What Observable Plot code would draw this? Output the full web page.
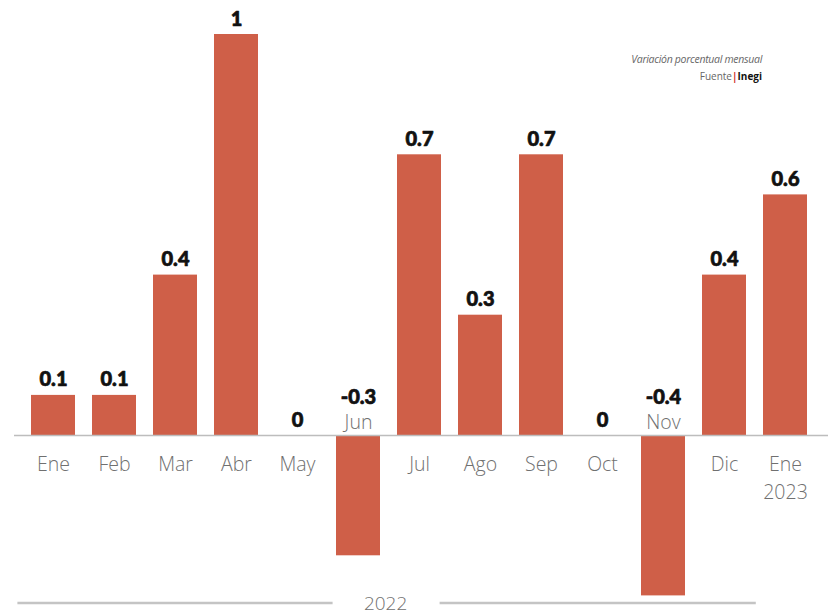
<!DOCTYPE html>
<html>
<head>
<meta charset="utf-8">
<script src="https://cdn.jsdelivr.net/npm/d3@7"></script>
<script src="https://cdn.jsdelivr.net/npm/@observablehq/plot@0.6"></script>
<style>
  html, body { margin: 0; padding: 0; background: #fff; }
  #wrap { position: relative; width: 828px; height: 615px; overflow: hidden; }
  .note { position: absolute; right: 66px; text-align: right; font-family: "Open Sans", sans-serif; color: #666; }
</style>
</head>
<body>
<div id="wrap"></div>
<script>
const months = ["Ene","Feb","Mar","Abr","May","Jun","Jul","Ago","Sep","Oct","Nov","Dic","Ene\n2023"];
const values = [0.1, 0.1, 0.4, 1, 0, -0.3, 0.7, 0.3, 0.7, 0, -0.4, 0.4, 0.6];
const yearLabel = "2022";
const noteLine1 = "Variación porcentual mensual";
const noteSource = "Fuente";
const noteSourceName = "Inegi";

const data = months.map((m, i) => ({month: m, value: values[i]}));
const pos = data.filter(d => d.value >= 0);
const neg = data.filter(d => d.value < 0);
const barColor = "#cf5f48";

const chart = Plot.plot({
  width: 828,
  height: 615,
  marginTop: 0,
  marginBottom: 0,
  marginLeft: 14,
  marginRight: 0,
  style: {background: "#fff", overflow: "visible"},
  x: {domain: months, range: [21.4, 817], paddingInner: 0.28, paddingOuter: 0.14, axis: null},
  y: {domain: [-0.4, 1], range: [595.4, 34], axis: null},
  marks: [
    Plot.barY(data, {x: "month", y: "value", fill: barColor}),
    Plot.ruleY([0], {stroke: "#bdbdbd", strokeWidth: 1.5}),
    // value labels
    Plot.text(pos, {
      x: "month", y: "value", text: d => String(d.value),
      lineAnchor: "bottom", dy: -9,
      fontFamily: "Lato, 'DejaVu Sans', sans-serif", fontWeight: 900, fontSize: 20,
      fill: "#111", stroke: "#111", strokeWidth: 0.7
    }),
    Plot.text(neg, {
      x: "month", y: 0, text: d => String(d.value),
      lineAnchor: "bottom", dy: -32,
      fontFamily: "Lato, 'DejaVu Sans', sans-serif", fontWeight: 900, fontSize: 20,
      fill: "#111", stroke: "#111", strokeWidth: 0.7
    }),
    // month labels
    Plot.text(pos, {
      x: "month", y: 0, text: "month",
      lineAnchor: "top", dy: 16, lineHeight: 1.42,
      fontFamily: "'Open Sans', sans-serif", fontWeight: 300, fontSize: 19.5, fill: "#707070"
    }),
    Plot.text(neg, {
      x: "month", y: 0, text: "month",
      lineAnchor: "bottom", dy: -7,
      fontFamily: "'Open Sans', sans-serif", fontWeight: 300, fontSize: 19.5, fill: "#707070"
    })
  ]
});

document.getElementById("wrap").appendChild(chart);

// Year bracket at bottom, positioned from the plot's x scale
const xs = chart.scale("x");
const xScale = d3.scaleBand().domain(xs.domain).range(xs.range).paddingInner(0.28).paddingOuter(0.14);
const step = xScale.step();
const start = xScale("Ene") - xScale.paddingOuter() * step;
const end = xScale("Dic") + xScale.bandwidth() + (1 - xScale.bandwidth() / step) * step / 2;
const mid = (start + end) / 2 - 3;
const svg = d3.select(chart);
const g = svg.append("g");
g.append("line").attr("x1", start - 4).attr("x2", mid - 53).attr("y1", 603).attr("y2", 603)
  .attr("stroke", "#c4c4c4").attr("stroke-width", 2.5);
g.append("line").attr("x1", mid + 54).attr("x2", end).attr("y1", 603).attr("y2", 603)
  .attr("stroke", "#c4c4c4").attr("stroke-width", 2.5);
g.append("text").attr("x", mid).attr("y", 610).attr("text-anchor", "middle")
  .attr("font-family", "'Open Sans', sans-serif").attr("font-weight", 300).attr("font-size", 19)
  .attr("fill", "#707070").text(yearLabel);

// Notes top-right
const n1 = document.createElement("div");
n1.className = "note";
n1.style.top = "52px";
n1.style.fontSize = "10.5px";
n1.style.fontStyle = "italic";
n1.style.letterSpacing = "-0.3px";
n1.textContent = noteLine1;
document.getElementById("wrap").appendChild(n1);
const n2 = document.createElement("div");
n2.className = "note";
n2.style.top = "69px";
n2.style.fontSize = "10px";
n2.innerHTML = noteSource + '<span style="color:#d0302a;font-weight:700">|</span><span style="color:#111;font-weight:700">' + noteSourceName + '</span>';
document.getElementById("wrap").appendChild(n2);
</script>
</body>
</html>
